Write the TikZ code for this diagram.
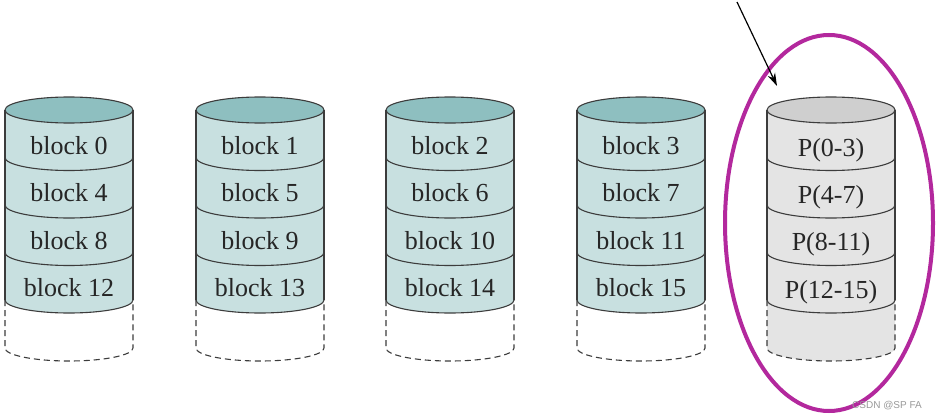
\documentclass[tikz,border=0pt]{standalone}
\usepackage{fontspec}
\setmainfont{Liberation Serif}
\newfontfamily\wmfont{Liberation Sans}
\usetikzlibrary{arrows.meta}
\definecolor{tealbody}{HTML}{C8E0E0}
\definecolor{tealtop}{HTML}{8EBFC0}
\definecolor{graybody}{HTML}{E4E4E4}
\definecolor{graytop}{HTML}{CFCFCF}
\definecolor{edgec}{HTML}{3C3C3C}
\definecolor{ringc}{HTML}{B3289D}
\begin{document}
\begin{tikzpicture}[x=1pt,y=1pt,
  edgeline/.style={draw=edgec, line width=1.1pt},
  dashline/.style={draw=edgec, line width=1.1pt, dash pattern=on 6pt off 4pt},
  disklabel/.style={font=\fontsize{26}{30}\selectfont, text=black!85, inner sep=0pt},
  ringline/.style={draw=ringc, line width=4pt},
  pointer/.style={draw=black, line width=1.2pt, -{Stealth[length=13pt,width=8pt]}},
  watermark/.style={font=\wmfont\fontsize{10}{12}\selectfont, text=black!40, inner sep=0pt}]
\useasboundingbox (0,0) rectangle (939,-420);
\fill[white] (0,0) rectangle (939,-420);

\foreach \cx/\bf/\tf/\df/\dy/\la/\lb/\lc/\ld/\n in {
  69/tealbody/tealtop/white/0/block 0/block 4/block 8/block 12/0,
  260/tealbody/tealtop/white/0/block 1/block 5/block 9/block 13/1,
  450/tealbody/tealtop/white/0/block 2/block 6/block 10/block 14/2,
  641/tealbody/tealtop/white/0/block 3/block 7/block 11/block 15/3,
  831/graybody/graytop/graybody/4/P(0-3)/P(4-7)/P(8-11)/P(12-15)/4}
{
  % dashed lower part fill
  \fill[\df] (\cx-64,-300) -- (\cx-64,-348)
     arc[start angle=180,end angle=360,x radius=64,y radius=13]
     -- (\cx+64,-300)
     arc[start angle=360,end angle=180,x radius=64,y radius=13] -- cycle;
  % body fill
  \fill[\bf] (\cx-64,-110) -- (\cx-64,-300)
     arc[start angle=180,end angle=360,x radius=64,y radius=13]
     -- (\cx+64,-110) -- cycle;
  % top ellipse
  \filldraw[fill=\tf, edgeline] (\cx,-110) ellipse[x radius=64, y radius=13];
  % sides
  \draw[edgeline] (\cx-64,-110) -- (\cx-64,-300);
  \draw[edgeline] (\cx+64,-110) -- (\cx+64,-300);
  % separators
  \foreach \yy in {157.5,205,252.5,300}
    \draw[edgeline] (\cx-64,-\yy) arc[start angle=180,end angle=360,x radius=64,y radius=13];
  % dashed empty part
  \draw[dashline] (\cx-64,-300) -- (\cx-64,-348)
     arc[start angle=180,end angle=360,x radius=64,y radius=13]
     -- (\cx+64,-300);
  % labels
  \node[disklabel] (d\n a) at (\cx,-146-\dy) {\la};
  \node[disklabel] (d\n b) at (\cx,-193-\dy) {\lb};
  \node[disklabel] (d\n c) at (\cx,-240.5-\dy) {\lc};
  \node[disklabel] (d\n d) at (\cx,-288-\dy) {\ld};
}

% highlight ring around parity disk
\draw[ringline] (829,-223) ellipse[x radius=104, y radius=188];

% pointer arrow
\coordinate (arrS) at (737,-2);
\coordinate (arrE) at (777,-86);
\draw[pointer] (arrS) -- (arrE);

% watermark
\node[watermark, anchor=east] (wm) at (922,-406) {CSDN @SP FA};
\end{tikzpicture}
\end{document}
